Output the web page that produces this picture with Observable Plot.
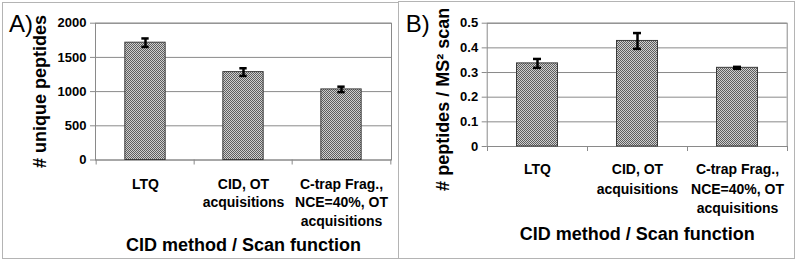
<!DOCTYPE html>
<html>
<head>
<meta charset="utf-8">
<script src="https://cdn.jsdelivr.net/npm/d3@7"></script>
<script src="https://cdn.jsdelivr.net/npm/@observablehq/plot@0.6"></script>
<style>
  html, body { margin: 0; padding: 0; background: #fff; }
  #wrap { position: relative; width: 800px; height: 264px; overflow: hidden; font-family: "Liberation Sans", Arial, sans-serif; }
  .panel { position: absolute; box-sizing: border-box; border: 1.5px solid #b4b4b4; }
  .chart { position: absolute; top: 0; }
  .chart svg { display: block; }
</style>
</head>
<body>
<svg width="0" height="0" style="position:absolute">
  <defs>
    <pattern id="mesh" patternUnits="userSpaceOnUse" width="2" height="2">
      <rect width="2" height="2" fill="#cfcfcf"></rect>
      <rect x="0" y="0" width="1" height="1" fill="#5e5e5e"></rect>
      <rect x="1" y="1" width="1" height="1" fill="#5e5e5e"></rect>
    </pattern>
  </defs>
</svg>
<div id="wrap">
  <div class="panel" style="left:2px;top:2px;width:397px;height:257px;"></div>
  <div class="panel" style="left:397.5px;top:1px;width:397px;height:258px;"></div>
  <div class="chart" id="left" style="left:0px;"></div>
  <div class="chart" id="right" style="left:400px;"></div>
</div>
<script>
// ---- data ----
const categories = ["LTQ", "CID, OT acquisitions", "C-trap Frag., NCE=40%, OT acquisitions"];
const tickLabels = ["LTQ", "CID, OT\nacquisitions", "C-trap Frag.,\nNCE=40%, OT\nacquisitions"];
const uniquePeptides = [1715, 1285, 1032];
const uniquePeptidesErr = [62, 56, 40];
const peptidesPerScan = [0.337, 0.428, 0.319];
const peptidesPerScanErr = [0.018, 0.032, 0.004];
const yTicksA = [0, 500, 1000, 1500, 2000];
const yTicksB = [0, 0.1, 0.2, 0.3, 0.4, 0.5];
const panelLetters = ["A)", "B)"];
const yTitles = ["# unique peptides", "# peptides / MS\u00B2 scan"];
const xTitle = "CID method / Scan function";

const FONT = "Liberation Sans, Arial, sans-serif";

function makePanel(cfg) {
  const rows = categories.map((c, i) => ({cat: c, v: cfg.values[i], e: cfg.errs[i]}));
  const W = 400, H = 264;
  const plotW = W - cfg.mL - cfg.mR;
  const plotH = H - cfg.mT - cfg.mB;
  const bw = plotW / categories.length;
  const barInset = (bw - 41) / 2;
  const capInset = (bw - 8) / 2;
  const labelOf = new Map(categories.map((c, i) => [c, tickLabels[i]]));
  return Plot.plot({
    width: W,
    height: H,
    marginLeft: cfg.mL,
    marginRight: cfg.mR,
    marginTop: cfg.mT,
    marginBottom: cfg.mB,
    style: {fontFamily: FONT, background: "transparent", overflow: "visible"},
    x: {domain: categories, padding: 0, label: null},
    y: {domain: cfg.domain, label: null},
    marks: [
      Plot.gridY(cfg.ticks, {stroke: "#8a8a8a", strokeOpacity: 1}),
      Plot.frame({stroke: "#8a8a8a"}),
      Plot.barY(rows, {x: "cat", y: "v", fill: "url(#mesh)", stroke: "#3c3c3c", strokeWidth: 1, insetLeft: barInset, insetRight: barInset}),
      Plot.ruleX(rows, {x: "cat", y1: d => d.v - d.e, y2: d => d.v + d.e, stroke: "#000", strokeWidth: 2.5}),
      Plot.tickY(rows, {x: "cat", y: d => d.v + d.e, stroke: "#000", strokeWidth: 2.5, insetLeft: capInset, insetRight: capInset}),
      Plot.tickY(rows, {x: "cat", y: d => d.v - d.e, stroke: "#000", strokeWidth: 2.5, insetLeft: capInset, insetRight: capInset}),
      // category boundary ticks below the baseline
      Plot.ruleX(categories, {x: d => d, dx: -bw / 2, stroke: "#8a8a8a", insetTop: plotH, insetBottom: -5}),
      Plot.ruleX(categories.slice(-1), {x: d => d, dx: bw / 2, stroke: "#8a8a8a", insetTop: plotH, insetBottom: -5}),
      Plot.axisY({ticks: cfg.ticks, tickFormat: cfg.fmt, tickSize: 5, tickPadding: 4, stroke: "#8a8a8a", fill: "#000",
                  fontSize: 13, fontWeight: "bold", label: null}),
      Plot.axisX({tickSize: 0, tickPadding: cfg.xPad, tickFormat: d => labelOf.get(d), fill: "#000",
                  fontSize: 14, fontWeight: "bold", lineHeight: cfg.lh, label: null}),
      Plot.text([cfg.yTitle], {frameAnchor: "left", textAnchor: "middle", lineAnchor: "middle",
                  dx: cfg.yTitleDx, dy: cfg.yTitleDy, rotate: -90, text: d => d,
                  fontSize: 18, fontWeight: "bold", fill: "#000"}),
      Plot.text([xTitle], {frameAnchor: "bottom", textAnchor: "middle", lineAnchor: "middle", dy: cfg.xTitleDy, text: d => d,
                  fontSize: 18, fontWeight: "bold", fill: "#000"}),
      Plot.text([cfg.letter], {frameAnchor: "top-left", textAnchor: "start", lineAnchor: "middle", dx: cfg.letterDx, dy: 1.5, text: d => d,
                  fontSize: 24, fontWeight: "normal", fill: "#000"})
    ]
  });
}

document.getElementById("left").appendChild(makePanel({
  values: uniquePeptides, errs: uniquePeptidesErr,
  domain: [0, 2000], ticks: yTicksA, fmt: d => String(d),
  mL: 95, mR: 9, mT: 22.7, mB: 104.5,
  xPad: 15.5, lh: 1.32,
  yTitle: yTitles[0], yTitleDx: -55, yTitleDy: 0,
  xTitleDy: 85.5, letter: panelLetters[0], letterDx: -86.5
}));

document.getElementById("right").appendChild(makePanel({
  values: peptidesPerScan, errs: peptidesPerScanErr,
  domain: [0, 0.5], ticks: yTicksB, fmt: d => String(+d.toFixed(1)),
  mL: 86.7, mR: 13.3, mT: 22.7, mB: 118,
  xPad: 14, lh: 1.38,
  yTitle: yTitles[1], yTitleDx: -44, yTitleDy: 14.5,
  xTitleDy: 87.3, letter: panelLetters[1], letterDx: -81.5
}));
</script>
</body>
</html>
